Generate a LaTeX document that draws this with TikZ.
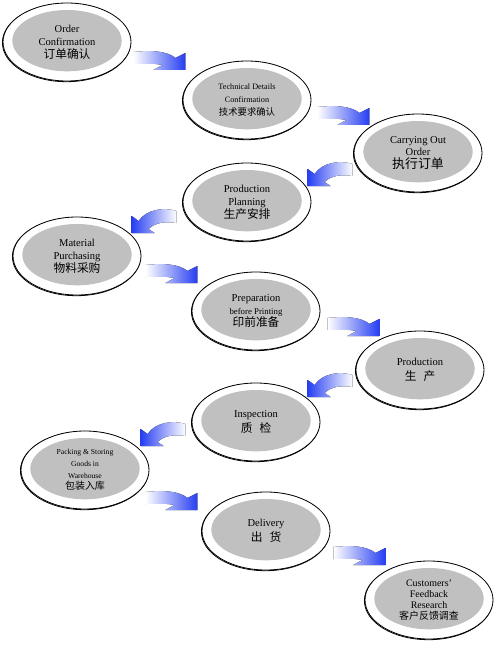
\documentclass[tikz,border=0pt]{standalone}
\usepackage{fontspec}
\setmainfont{Liberation Serif}
\newfontfamily\cjk{Noto Sans CJK SC}
\usetikzlibrary{calc, shapes.geometric}
\usepackage{xcolor}

\definecolor{stepgray}{RGB}{192,192,192}
\definecolor{flowblue}{RGB}{38,62,242}

\begin{document}
\begin{tikzpicture}[
        x=0.03cm, y=-0.03cm,
        stepnode/.style={ellipse, draw, line width=0.7pt, fill=white, inner sep=0pt,
            minimum width=3.84cm, minimum height=2.34cm, align=center,
            font=\fontsize{9}{11}\selectfont,
            preaction={draw, line width=0.7pt, transform canvas={shift={(-0.5pt,-0.6pt)}}},
            path picture={\fill[stepgray] ([yshift=0.04cm]path picture bounding box.center)
                ellipse [x radius=1.64cm, y radius=0.92cm];}},
        small/.style={font=\fontsize{7}{11}\selectfont},
        rflow/.pic={\fill[left color=white, right color=flowblue]
            (0,0) .. controls (18,-2) and (34,-1) .. (42,6) -- (52,1) -- (52,18) -- (20,18)
            -- (29,13) .. controls (20,11) and (9,12) .. (0,12) -- cycle;},
        lflow/.pic={\fill[left color=flowblue, right color=white]
            (0,1) .. controls (-12,-3) and (-30,-1) .. (-38,11) -- (-45,6) -- (-45,23) -- (-22,23)
            -- (-28,19) .. controls (-22,13) and (-12,11) .. (0,13) -- cycle;}
    ]
        \useasboundingbox (0,0) rectangle (500,648);

        % Nodes
        \node (order) [stepnode] at (67,42) {Order\\Confirmation\\{\cjk\fontsize{10}{12}\selectfont 订单确认}};
        \node (techdet) [stepnode, small] at (247,100) {Technical Details\\Confirmation\\{\cjk\fontsize{8}{11}\selectfont 技术要求确认}};
        \node (carry) [stepnode] at (418,153) {Carrying Out\\Order\\{\cjk\fontsize{11}{12}\selectfont 执行订单}};
        \node (planning) [stepnode] at (247,202) {Production\\Planning\\{\cjk\fontsize{10}{12}\selectfont 生产安排}};
        \node (material) [stepnode] at (77,256) {Material\\Purchasing\\{\cjk\fontsize{10}{12}\selectfont 物料采购}};
        \node (prepare) [stepnode] at (256,311) {Preparation\\{\fontsize{7.5}{9}\selectfont before Printing}\\{\cjk\fontsize{10}{12}\selectfont 印前准备}};
        \node (production) [stepnode] at (420,370) {Production\\[2pt]{\cjk\fontsize{10}{12}\selectfont 生\hspace{0.6em}产}};
        \node (inspect) [stepnode] at (256,422) {Inspection\\[2pt]{\cjk\fontsize{10}{12}\selectfont 质\hspace{0.6em}检}};
        \node (packing) [stepnode, font=\fontsize{6.5}{10}\selectfont] at (85,470) {Packing \& Storing\\Goods in\\Warehouse\\{\cjk\fontsize{8.5}{11}\selectfont 包装入库}};
        \node (delivery) [stepnode] at (266,531) {Delivery\\[2pt]{\cjk\fontsize{10}{12}\selectfont 出\hspace{0.6em}货}};
        \node (feedback) [stepnode, font=\fontsize{8.5}{9.5}\selectfont] at (429,600) {Customers’\\Feedback\\Research\\{\cjk\fontsize{8.5}{10}\selectfont 客户反馈调查}};

        % Arrows
        \pic at ($(order.east)+(2,10)$) {rflow};
        \pic at ($(techdet.east)+(6,7)$) {rflow};
        \pic at ($(carry.west)+(-1,10)$) {lflow};
        \pic at ($(planning.west)+(-6,8)$) {lflow};
        \pic at ($(material.east)+(4,9)$) {rflow};
        \pic at ($(prepare.east)+(7,7)$) {rflow};
        \pic at ($(production.west)+(-3,4)$) {lflow};
        \pic at ($(inspect.west)+(-6,1)$) {lflow};
        \pic at ($(packing.east)+(-4,22)$) {rflow};
        \pic at ($(delivery.east)+(3,16)$) {rflow};
    \end{tikzpicture}
\end{document}
